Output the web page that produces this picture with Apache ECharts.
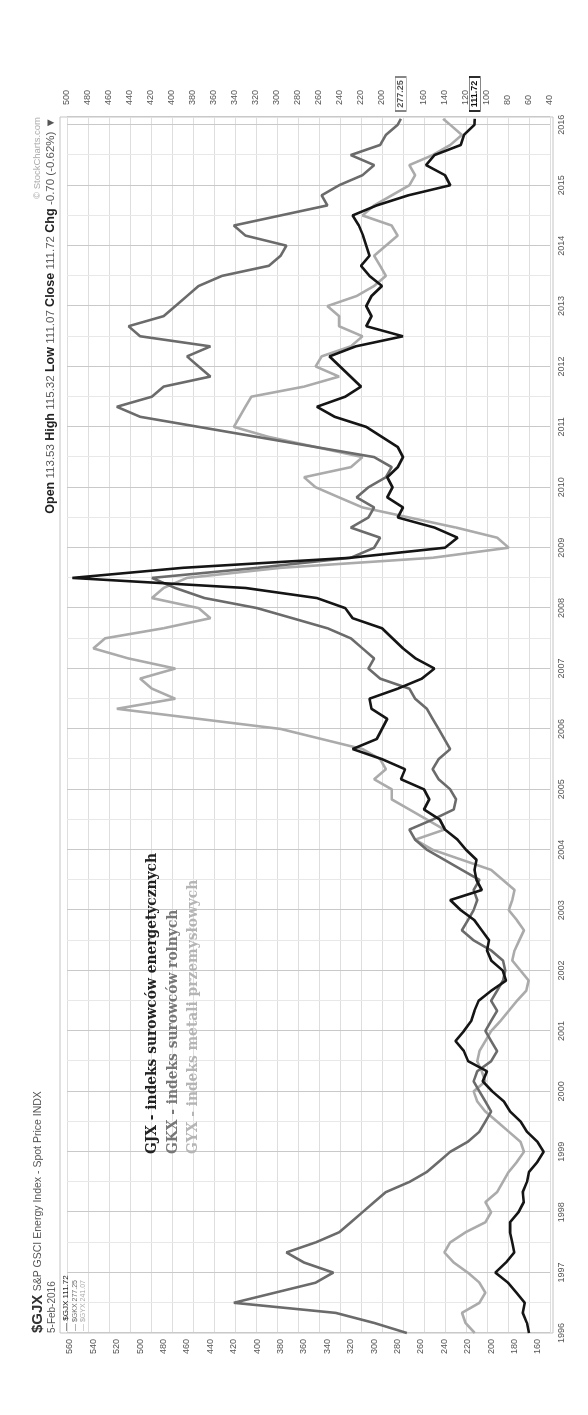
<!DOCTYPE html>
<html><head><meta charset="utf-8">
<script src="https://cdn.jsdelivr.net/npm/echarts@6/dist/echarts.min.js"></script>
<style>
html,body{margin:0;padding:0;background:#fff;width:588px;height:1415px;overflow:hidden;}
#rule{position:absolute;left:7px;top:0;width:2px;height:1415px;background:#333;}
#chart{position:absolute;left:0;top:0;width:1415px;height:588px;transform-origin:0 0;transform:translate(0px,1415px) rotate(-90deg);}
</style></head>
<body>
<div id="rule"></div>
<div id="chart"></div>
<script>
// time points: every two months from Jan 1996, last point 5-Feb-2016
const times = [];
for (let k = 0; k <= 120; k++) times.push(1996 + k / 6);
times.push(2016.1);
const leftTicks = [160,180,200,220,240,260,280,300,320,340,360,380,400,420,440,460,480,500,520,540,560];
// $GJX (right axis)
const gjx = [
  60,62,66,64,72,80,  92,82,74,76,78,78,  70,65,66,62,60,52,  46,52,62,68,78,84,
  95,104,100,118,122,130,  122,115,112,108,96,82,  85,96,100,98,105,112,  125,135,105,110,112,110,
  120,128,140,145,160,155,  160,182,178,200,228,205,  200,195,210,212,185,162,  150,168,180,190,200,228,
  235,262,330,495,390,230,  140,128,150,185,180,195,  190,195,185,180,185,200,  215,245,262,235,220,230,
  240,250,225,180,215,210,  215,210,200,212,220,212,  215,218,222,228,205,175,  135,140,158,150,125,122,
  112,111.72];
// $GKX (left axis)
const gkx = [
  272,300,333,420,385,350,  335,360,375,350,330,320,  310,300,290,270,255,245,  235,220,210,205,200,205,
  210,215,212,200,195,200,  205,200,195,200,195,190,  188,190,200,215,225,220,  215,212,215,210,225,240,
  255,265,270,250,232,230,  235,245,250,245,235,240,  245,250,255,265,270,295,  305,300,310,320,340,370,
  400,445,470,490,400,320,  300,295,320,305,300,315,  305,290,285,300,350,400,  450,500,520,490,480,440,
  450,460,440,500,510,480,  470,460,450,430,390,380,  375,410,420,380,340,345,  330,310,300,320,295,290,
  280,277.25];
// $GYX (left axis)
const gyx = [
  214,222,225,210,205,210,  220,232,240,235,222,205,  200,205,195,190,185,178,  172,175,185,195,205,212,
  215,205,208,212,210,205,  200,192,185,178,170,168,  175,182,180,176,172,178,  185,182,180,190,200,225,
  250,265,240,255,270,285,  285,300,290,295,310,345,  380,450,520,470,490,500,  470,510,540,530,480,440,
  450,490,480,460,380,250,  185,195,230,270,310,330,  350,360,320,310,350,390,  420,415,410,405,360,330,
  350,345,320,310,330,330,  340,315,300,290,295,300,  290,280,285,310,300,285,  270,265,270,250,235,225,
  235,241.07];

const pair = arr => times.map((t, i) => [t, arr[i]]);
const C_GJX = '#151515', C_GKX = '#6b6b6b', C_GYX = '#ababab';
const fontUI = 'Liberation Sans, Arial, sans-serif';
const fontSerif = 'DejaVu Serif, serif';

const chart = echarts.init(document.getElementById('chart'), null, {renderer: 'canvas'});
chart.setOption({
  backgroundColor: '#fff',
  animation: false,
  grid: {left: 82, right: 117, top: 67, bottom: 38, containLabel: false},
  xAxis: {
    type: 'value', min: 1996, max: 2016.13, interval: 1,
    axisLine: {show: false}, axisTick: {show: false},
    axisLabel: {fontSize: 9, color: '#555', fontFamily: fontUI, margin: 7, showMaxLabel: false,
      formatter: v => String(Math.round(v))},
    splitLine: {show: true, lineStyle: {color: '#c9c9c9', width: 1}},
    minorTick: {show: false, splitNumber: 2},
    minorSplitLine: {show: true, lineStyle: {color: '#e8e8e8', width: 1}}
  },
  yAxis: [
    {type: 'value', position: 'right', min: 40, max: 500, interval: 20,
      axisLine: {show: false}, axisTick: {show: false},
      axisLabel: {fontSize: 9, color: '#555', fontFamily: fontUI, margin: 12},
      splitLine: {show: true, lineStyle: {color: '#dedede', width: 1}}},
    {type: 'value', position: 'left', min: 149.74, max: 562.56,
      axisLine: {show: false}, axisTick: {show: false},
      axisLabel: {fontSize: 9, color: '#555', fontFamily: fontUI, margin: 6, customValues: leftTicks},
      splitLine: {show: false}}
  ],
  graphic: [
    {type: 'rect', shape: {x: 82, y: 60, width: 1216, height: 493}, style: {fill: 'none', stroke: '#c4c4c4', lineWidth: 1}, z: 0, silent: true},
    {type: 'text', x: 82, y: 38, style: {text: '{b|$GJX} {n|S&P GSCI Energy Index - Spot Price INDX}', verticalAlign: 'middle',
      rich: {b: {fontSize: 15, fontWeight: 'bold', fontFamily: fontUI, fill: '#333'}, n: {fontSize: 10.5, fontFamily: fontUI, fill: '#555'}}}},
    {type: 'text', x: 82, y: 52, style: {text: '5-Feb-2016', fontSize: 10, fontFamily: fontUI, fill: '#555', verticalAlign: 'middle'}},
    {type: 'text', x: 84, y: 66, style: {text: '— $GJX 111.72', fontSize: 8, fontFamily: fontUI, fill: C_GJX, verticalAlign: 'middle'}, z: 10},
    {type: 'text', x: 84, y: 75, style: {text: '— $GKX 277.25', fontSize: 7, fontFamily: fontUI, fill: C_GKX, verticalAlign: 'middle'}, z: 10},
    {type: 'text', x: 84, y: 83, style: {text: '— $GYX 241.07', fontSize: 7, fontFamily: fontUI, fill: C_GYX, verticalAlign: 'middle'}, z: 10},
    {type: 'text', x: 1298, y: 37, style: {text: '© StockCharts.com', fontSize: 9.5, fontFamily: fontUI, fill: '#aaa', align: 'right', verticalAlign: 'middle'}},
    {type: 'text', x: 1298, y: 51, style: {text: '{b|Open} {n|113.53} {b|High} {n|115.32} {b|Low} {n|111.07} {b|Close} {n|111.72} {b|Chg} {n|-0.70 (-0.62%) ▼}',
      align: 'right', verticalAlign: 'middle',
      rich: {b: {fontSize: 12.5, fontWeight: 'bold', fontFamily: fontUI, fill: '#222'}, n: {fontSize: 11.5, fontFamily: fontUI, fill: '#555'}}}},
    {type: 'text', x: 261, y: 152, scaleX: 0.92, z: 20, style: {text: 'GJX - indeks surowców energetycznych', fontSize: 15, fontWeight: 'bold', fontFamily: fontSerif, fill: '#222', verticalAlign: 'middle'}},
    {type: 'text', x: 261, y: 173, scaleX: 0.92, z: 20, style: {text: 'GKX - indeks surowców rolnych', fontSize: 15, fontWeight: 'bold', fontFamily: fontSerif, fill: '#777', verticalAlign: 'middle'}},
    {type: 'text', x: 261, y: 193, scaleX: 0.92, z: 20, style: {text: 'GYX - indeks metali przemysłowych', fontSize: 15, fontWeight: 'bold', fontFamily: fontSerif, fill: '#b5b5b5', verticalAlign: 'middle'}}
  ],
  series: [
    {name: '$GYX', type: 'line', yAxisIndex: 1, data: pair(gyx), showSymbol: false, clip: false,
      lineStyle: {color: C_GYX, width: 2.6}, z: 2},
    {name: '$GKX', type: 'line', yAxisIndex: 1, data: pair(gkx), showSymbol: false, clip: false,
      lineStyle: {color: C_GKX, width: 2.6}, z: 3,
      markPoint: {symbol: 'rect', symbolSize: [34, 11], symbolOffset: [23, 0], silent: true,
        itemStyle: {color: '#fff', borderColor: '#777', borderWidth: 1},
        label: {show: true, color: '#555', fontSize: 9, fontWeight: 'bold', fontFamily: fontUI, formatter: '277.25'},
        data: [{coord: [2016.13, 277.25]}]}},
    {name: '$GJX', type: 'line', yAxisIndex: 0, data: pair(gjx), showSymbol: false, clip: false,
      lineStyle: {color: C_GJX, width: 2.6}, z: 4,
      markPoint: {symbol: 'rect', symbolSize: [34, 11], symbolOffset: [23, 0], silent: true,
        itemStyle: {color: '#fff', borderColor: '#111', borderWidth: 1},
        label: {show: true, color: '#111', fontSize: 9, fontWeight: 'bold', fontFamily: fontUI, formatter: '111.72'},
        data: [{coord: [2016.13, 111.72]}]}}
  ]
});
</script>
</body></html>
